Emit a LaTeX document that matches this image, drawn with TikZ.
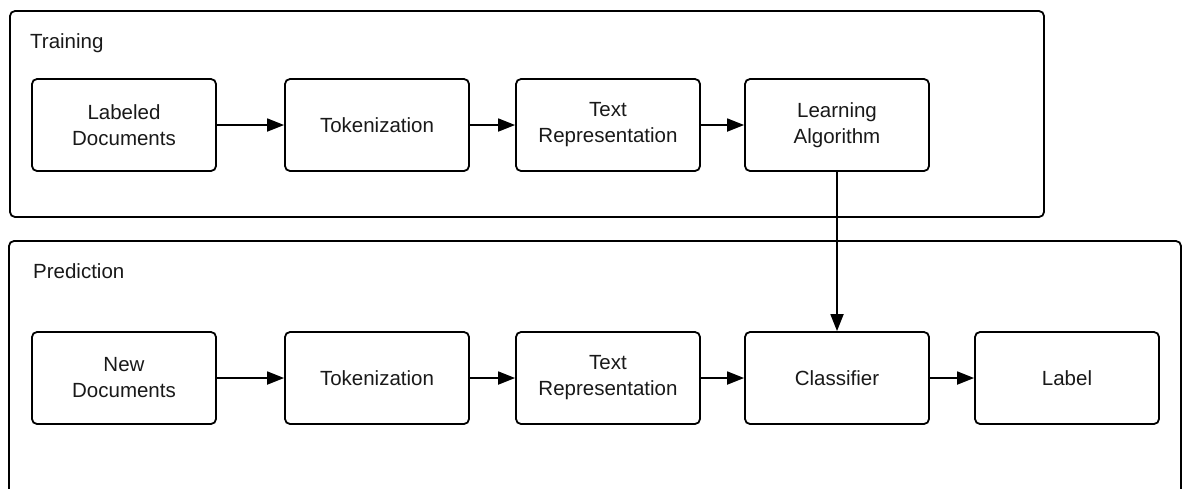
\documentclass[tikz,border=0pt]{standalone}
\usepackage{fontspec}
\setmainfont{Liberation Sans}
\usetikzlibrary{arrows.meta}
\begin{document}
\begin{tikzpicture}[x=1pt,y=-1pt,
  frame/.style={draw=black, line width=1.8pt, rounded corners=5pt},
  stepbox/.style={draw=black, line width=1.8pt, rounded corners=5pt, minimum width=184pt, minimum height=92pt, inner sep=0pt, align=center, font=\fontsize{20.5}{26}\selectfont, text=black!90},
  title/.style={anchor=base west, inner sep=0pt, font=\fontsize{20.5}{24}\selectfont, text=black!90},
  conn/.style={line width=1.8pt, -{Triangle[length=17pt,width=13pt]}}]
\useasboundingbox (0,0) rectangle (1183,488);
\clip (0,0) rectangle (1183,488);
\fill[white] (0,0) rectangle (1183,488);
% containers
\draw[frame] (10,11) rectangle (1044,217);
\draw[frame] (9,241) rectangle (1181,520);
\node[title] (trainlbl) at (30,48) {Training};
\node[title] (predlbl) at (33,278) {Prediction};
% training row
\node[stepbox] (ld) at (124,125) {Labeled\\Documents};
\node[stepbox] (tok1) at (377,125) {Tokenization};
\node[stepbox] (tr1) at (608,125) {Text\\Representation};
\node[stepbox] (la) at (837,125) {Learning\\Algorithm};
% prediction row
\node[stepbox] (nd) at (124,378) {New\\Documents};
\node[stepbox] (tok2) at (377,378) {Tokenization};
\node[stepbox] (tr2) at (608,378) {Text\\Representation};
\node[stepbox] (cl) at (837,378) {Classifier};
\node[stepbox] (lb) at (1067,378) {Label};
% connectors
\draw[conn] (ld) -- (tok1);
\draw[conn] (tok1) -- (tr1);
\draw[conn] (tr1) -- (la);
\draw[conn] (la) -- (cl);
\draw[conn] (nd) -- (tok2);
\draw[conn] (tok2) -- (tr2);
\draw[conn] (tr2) -- (cl);
\draw[conn] (cl) -- (lb);
\end{tikzpicture}
\end{document}
